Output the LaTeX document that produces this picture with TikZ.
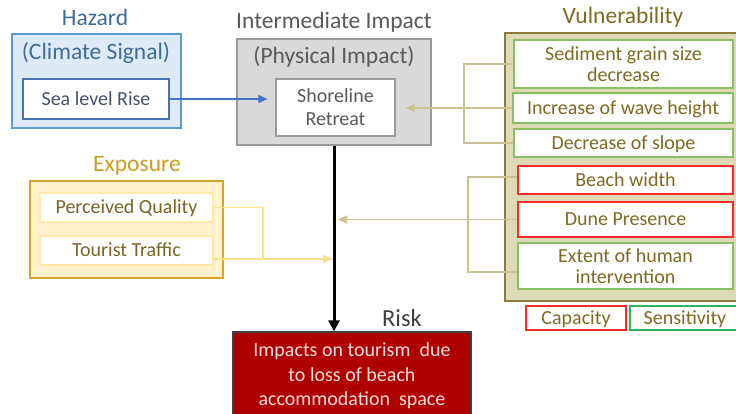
\documentclass[tikz,border=0pt]{standalone}
\usepackage{fontspec}
\setmainfont{Carlito}
\usetikzlibrary{arrows.meta}

\definecolor{hazcol}{HTML}{3F6B99}
\definecolor{hazfill}{HTML}{DEEBF7}
\definecolor{hazline}{HTML}{5B9BD5}
\definecolor{slrline}{HTML}{4A72B0}
\definecolor{slrtext}{HTML}{44546A}
\definecolor{arrblue}{HTML}{4472C4}
\definecolor{impcol}{HTML}{595959}
\definecolor{impfill}{HTML}{D9D9D9}
\definecolor{impline}{HTML}{9A9A9A}
\definecolor{vulcol}{HTML}{7F6A22}
\definecolor{vulfill}{HTML}{DDDBB5}
\definecolor{vulline}{HTML}{8B7A3C}
\definecolor{vulconn}{HTML}{CBC291}
\definecolor{sensline}{HTML}{86C062}
\definecolor{capline}{HTML}{FF2828}
\definecolor{legsens}{HTML}{2EB35E}
\definecolor{expcol}{HTML}{CC9C22}
\definecolor{expfill}{HTML}{FFF2CC}
\definecolor{expline}{HTML}{D4A52A}
\definecolor{expinner}{HTML}{FFE8A8}
\definecolor{expconn}{HTML}{FFE08A}
\definecolor{exptext}{HTML}{7A6425}
\definecolor{riskfill}{HTML}{AF0000}
\definecolor{risktext}{HTML}{F4DCDC}
\definecolor{riskcol}{HTML}{404040}

\begin{document}
\begin{tikzpicture}[x=1pt, y=-1pt,
  frame/.style={draw, line width=1.2pt, inner sep=0pt},
  box/.style={draw, fill=white, line width=1.2pt, inner sep=0pt, align=center,
    font=\fontsize{20}{20.5}\selectfont},
  oneline/.style={text height=14pt, text depth=1.5pt},
  title/.style={inner sep=0pt, font=\fontsize{23.5}{27}\selectfont},
  vbox/.style={box, text=vulcol, minimum width=219pt},
  ebox/.style={box, oneline, draw=expinner, text=exptext, minimum width=173pt, minimum height=29pt},
  vconn/.style={vulconn, line width=1.2pt},
  tip/.style={-{Triangle[length=9pt,width=8pt]}}]
\useasboundingbox (0,0) rectangle (736,414);
\clip (0,0) rectangle (736,414);
% Draw hazard block
\node[title, text=hazcol] (hazt) at (95,17) {Hazard};
\node[frame, draw=hazline, fill=hazfill, minimum width=169pt, minimum height=94pt] (haz) at (96.5,81) {};
\node[title, text=hazcol] (clim) at (96,53) {(Climate Signal)};
\node[box, oneline, draw=slrline, text=slrtext, minimum width=146pt, minimum height=40pt] (slr) at (96,99) {Sea level Rise};
% Draw intermediate impact block
\node[title, text=impcol] (impt) at (334,22) {Intermediate Impact};
\node[frame, draw=impline, fill=impfill, minimum width=194pt, minimum height=106pt] (phys) at (334,92) {};
\node[title, text=impcol] (physt) at (334,57) {(Physical Impact)};
\node[box, draw=impline, text=impcol, font=\fontsize{20}{23}\selectfont, minimum width=119pt, minimum height=57pt] (shore) at (335.5,107.5) {Shoreline\\Retreat};
% Draw vulnerability block
\node[title, text=vulcol] (vult) at (623,17) {Vulnerability};
\node[frame, draw=vulline, fill=vulfill, minimum width=235pt, minimum height=268pt] (vul) at (622.5,167) {};
\node[vbox, draw=sensline, minimum height=48pt] (sg) at (623.5,64) {Sediment grain size\\decrease};
\node[vbox, oneline, draw=sensline, minimum width=220pt, minimum height=30pt] (wh) at (623,108) {Increase of wave height};
\node[vbox, oneline, draw=sensline, minimum height=28pt] (ds) at (623.5,143) {Decrease of slope};
\node[vbox, oneline, draw=capline, minimum width=215pt, minimum height=28pt] (bw) at (625.5,180) {Beach width};
\node[vbox, oneline, draw=capline, minimum width=215pt, minimum height=35pt] (dp) at (625.5,219.5) {Dune Presence};
\node[vbox, draw=sensline, minimum width=215pt, minimum height=46pt] (ext) at (625.5,266) {Extent of human\\intervention};
% Legend
\node[box, oneline, draw=capline, text=vulcol, minimum width=100pt, minimum height=24pt] (cap) at (576,318) {Capacity};
\node[box, oneline, draw=legsens, text=vulcol, minimum width=110pt, minimum height=24pt, text width=100pt] (sens) at (685,318) {Sensitivity};
% Draw exposure block
\node[title, text=expcol] (expt) at (137,166) {Exposure};
\node[frame, draw=expline, fill=expfill, minimum width=193pt, minimum height=97pt] (exp) at (126.5,229.5) {};
\node[ebox] (pq) at (126.5,207.5) {Perceived Quality};
\node[ebox] (tt) at (126.5,250.5) {Tourist Traffic};
% Draw risk block
\node[title, text=riskcol, font=\fontsize{24.5}{28}\selectfont] (riskt) at (402,318) {Risk};
\node[frame, draw=riskcol, fill=riskfill, text=risktext, align=center, font=\fontsize{20}{24.5}\selectfont,
  minimum width=238pt, minimum height=88pt] (risk) at (352,376) {Impacts on tourism\ \ due\\to loss of beach\\accommodation\ \ space};
% Hazard to physical impact
\draw[tip, arrblue, line width=1.2pt, shorten >=8pt] (slr.east) -- (slr.east -| shore.west);
% Vulnerability connectors
\coordinate (vj1) at (464,0);
\coordinate (vj2) at (468,0);
\draw[vconn] (sg.west) -- (sg.west -| vj1) -- (ds.west -| vj1) -- (ds.west);
\draw[vconn, tip, shorten >=10pt] (wh.west) -- (wh.west -| shore.east);
\draw[vconn] ([yshift=3pt]bw.west) -- ([yshift=3pt]bw.west -| vj2) -- ([yshift=-6pt]ext.west -| vj2) -- ([yshift=-6pt]ext.west);
% Main path to risk
\draw[line width=3pt, -{Triangle[length=11pt,width=11pt]}] (phys.south) -- (phys.south |- risk.north);
\draw[vconn, tip, shorten >=4pt] (dp.west) -- (dp.west -| phys.south);
% Exposure connectors
\coordinate (expin) at (332,259);
\coordinate (ej) at (263,259);
\draw[expconn, line width=1.2pt] (pq.east) -| (ej) -- (expin);
\draw[expconn, line width=1.2pt, tip] (tt.east |- expin) -- (expin);
\end{tikzpicture}
\end{document}
